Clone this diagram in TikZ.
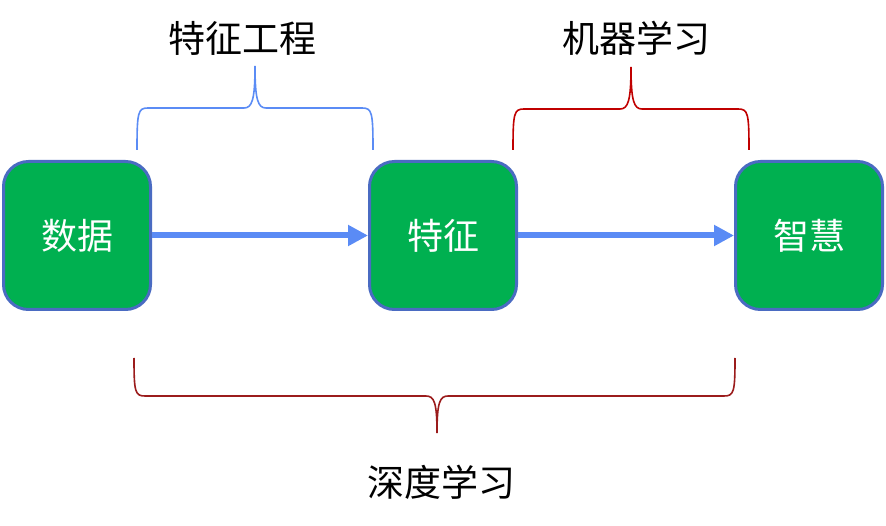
\documentclass[tikz,border=0pt]{standalone}
\usepackage{fontspec}
\setmainfont{Noto Sans CJK SC}
\usetikzlibrary{arrows.meta}
\definecolor{boxgreen}{HTML}{00B050}
\definecolor{boxline}{HTML}{4A6BC2}
\definecolor{flowblue}{HTML}{5A8BF5}
\definecolor{braceblue}{HTML}{5B8CF5}
\definecolor{bracered}{HTML}{C00000}
\definecolor{bracedark}{HTML}{9B1C1C}
\begin{document}
\begin{tikzpicture}[x=1pt,y=-1pt,
  stage/.style={draw=boxline,line width=3pt,fill=boxgreen,rounded corners=25pt,
    minimum width=147pt,minimum height=148pt,text=white,
    font=\fontsize{36}{40}\selectfont},
  flow/.style={draw=flowblue,line width=6pt,-{Triangle[length=20pt,width=20pt]}},
  label/.style={font=\fontsize{37}{40}\selectfont},
  brace/.style={line width=1.6pt}]
	\useasboundingbox (0,0) rectangle (886,526);
	\node[stage] (data) at (77,235.5) {数据};
	\node[stage] (feat) at (443,235.5) {特征};
	\node[stage] (wisdom) at (809,235.5) {智慧};
	\draw[flow] (data) -- (feat);
	\draw[flow] (feat) -- (wisdom);
	% braces
	\draw[brace,braceblue] (137,150) .. controls (137,112) and (138,108) .. (148,108)
		-- (244,108) .. controls (252,108) and (255,100) .. (255,66)
		.. controls (255,100) and (258,108) .. (266,108) -- (362,108)
		.. controls (372,108) and (373,112) .. (373,150);
	\draw[brace,bracered] (513,150) .. controls (513,113) and (514,109) .. (524,109)
		-- (620,109) .. controls (628,109) and (631,101) .. (631,67)
		.. controls (631,101) and (634,109) .. (642,109) -- (738,109)
		.. controls (748,109) and (749,113) .. (749,150);
	\draw[brace,bracedark] (134,358) .. controls (134,392) and (135,396) .. (145,396)
		-- (426,396) .. controls (434,396) and (437,402) .. (437,433)
		.. controls (437,402) and (440,396) .. (448,396) -- (724,396)
		.. controls (734,396) and (735,392) .. (735,358);
	\node[label] (fe) at (242,38) {特征工程};
	\node[label] (ml) at (636,38) {机器学习};
	\node[label] (dl) at (441,482) {深度学习};
\end{tikzpicture}
\end{document}
